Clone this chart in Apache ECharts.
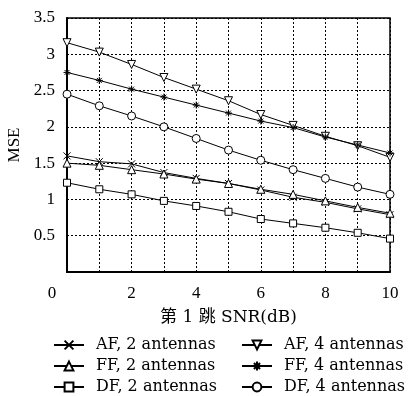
<!DOCTYPE html>
<html><head><meta charset="utf-8">
<script src="https://cdn.jsdelivr.net/npm/echarts@6/dist/echarts.min.js"></script>
<style>html,body{margin:0;padding:0;background:#fff}#c{width:409px;height:396px}</style>
</head><body><div id="c"></div>
<script>
const snr = [0,1,2,3,4,5,6,7,8,9,10];
const af2 = [1.60,1.52,1.49,1.37,1.29,1.22,1.13,1.03,0.96,0.87,0.79];
const ff2 = [1.50,1.47,1.41,1.35,1.28,1.22,1.14,1.07,0.98,0.89,0.81];
const df2 = [1.23,1.14,1.07,0.98,0.91,0.83,0.73,0.67,0.61,0.54,0.46];
const af4 = [3.16,3.03,2.86,2.68,2.52,2.36,2.17,2.02,1.87,1.74,1.58];
const ff4 = [2.75,2.64,2.52,2.41,2.30,2.19,2.08,1.99,1.86,1.75,1.64];
const df4 = [2.45,2.29,2.15,2.00,1.84,1.68,1.54,1.41,1.29,1.17,1.07];
const names = ['AF, 2 antennas','FF, 2 antennas','DF, 2 antennas','AF, 4 antennas','FF, 4 antennas','DF, 4 antennas'];
const xName = '第 1 跳 SNR(dB)';
const yName = 'MSE';

const F = '"Liberation Serif","DejaVu Serif","Noto Sans CJK SC",serif';
const FW = '"DejaVu Serif","Noto Sans CJK SC",serif';
const crossPath = 'path://M0 0L10 10M10 0L0 10';
const starPath = 'path://M5 0L5 10M0 5L10 5M1.5 1.5L8.5 8.5M8.5 1.5L1.5 8.5';

function mk(name, data, symbol, extra) {
  return Object.assign({
    name, type:'line', data: snr.map((x,i)=>[x,data[i]]),
    symbol, symbolSize: 8,
    lineStyle:{color:'#000',width:1},
    itemStyle:{color:'#fff',borderColor:'#000',borderWidth:1},
    emphasis:{disabled:true}, animation:false
  }, extra||{});
}
const legText = {fontFamily:FW,fontSize:16,color:'#000',lineHeight:16,padding:[0,0,0,7]};
const chart = echarts.init(document.getElementById('c'));
chart.setOption({
  backgroundColor:'#fff',
  textStyle:{fontFamily:F,color:'#000'},
  grid:{left:67,right:19,top:18,bottom:124,show:true,borderColor:'#000',borderWidth:1.5,
        containLabel:false,outerBoundsMode:'none'},
  xAxis:{type:'value',min:0,max:10,interval:1,
    name:xName,nameLocation:'middle',nameGap:37,
    nameTextStyle:{fontFamily:FW,fontSize:17,color:'#000'},
    axisLine:{lineStyle:{color:'#000',width:2}},axisTick:{show:false},
    axisLabel:{margin:13,fontFamily:F,fontSize:17,color:'#000',
      formatter:v=> v===0 ? '{z|0}' : (v%2===0 ? String(v) : ''),
      rich:{z:{fontFamily:F,fontSize:17,color:'#000',padding:[0,30,0,0]}}},
    splitLine:{show:true,lineStyle:{color:'#000',type:[2,2],width:1}}},
  yAxis:{type:'value',min:0,max:3.5,interval:0.5,
    name:yName,nameLocation:'middle',nameGap:44,
    nameTextStyle:{fontFamily:F,fontSize:17,color:'#000'},
    axisLine:{lineStyle:{color:'#000',width:2}},axisTick:{show:false},
    axisLabel:{margin:12,fontFamily:F,fontSize:17,color:'#000',
      formatter:v=> v===0 ? '' : String(v)},
    splitLine:{show:true,lineStyle:{color:'#000',type:[2,2],width:1}}},
  legend:[
    {data:names.slice(0,3),orient:'vertical',left:53,top:337,padding:0,itemGap:5,itemWidth:30,itemHeight:11,
     textStyle:legText},
    {data:names.slice(3),orient:'vertical',left:241,top:337,padding:0,itemGap:5,itemWidth:30,itemHeight:11,
     textStyle:legText}
  ],
  series:[
    mk(names[0],af2,crossPath,{symbolSize:7}),
    mk(names[1],ff2,'triangle'),
    mk(names[2],df2,'rect',{symbolSize:7}),
    mk(names[3],af4,'triangle',{symbolRotate:180}),
    mk(names[4],ff4,starPath,{symbolSize:7}),
    mk(names[5],df4,'circle')
  ]
});
</script></body></html>
